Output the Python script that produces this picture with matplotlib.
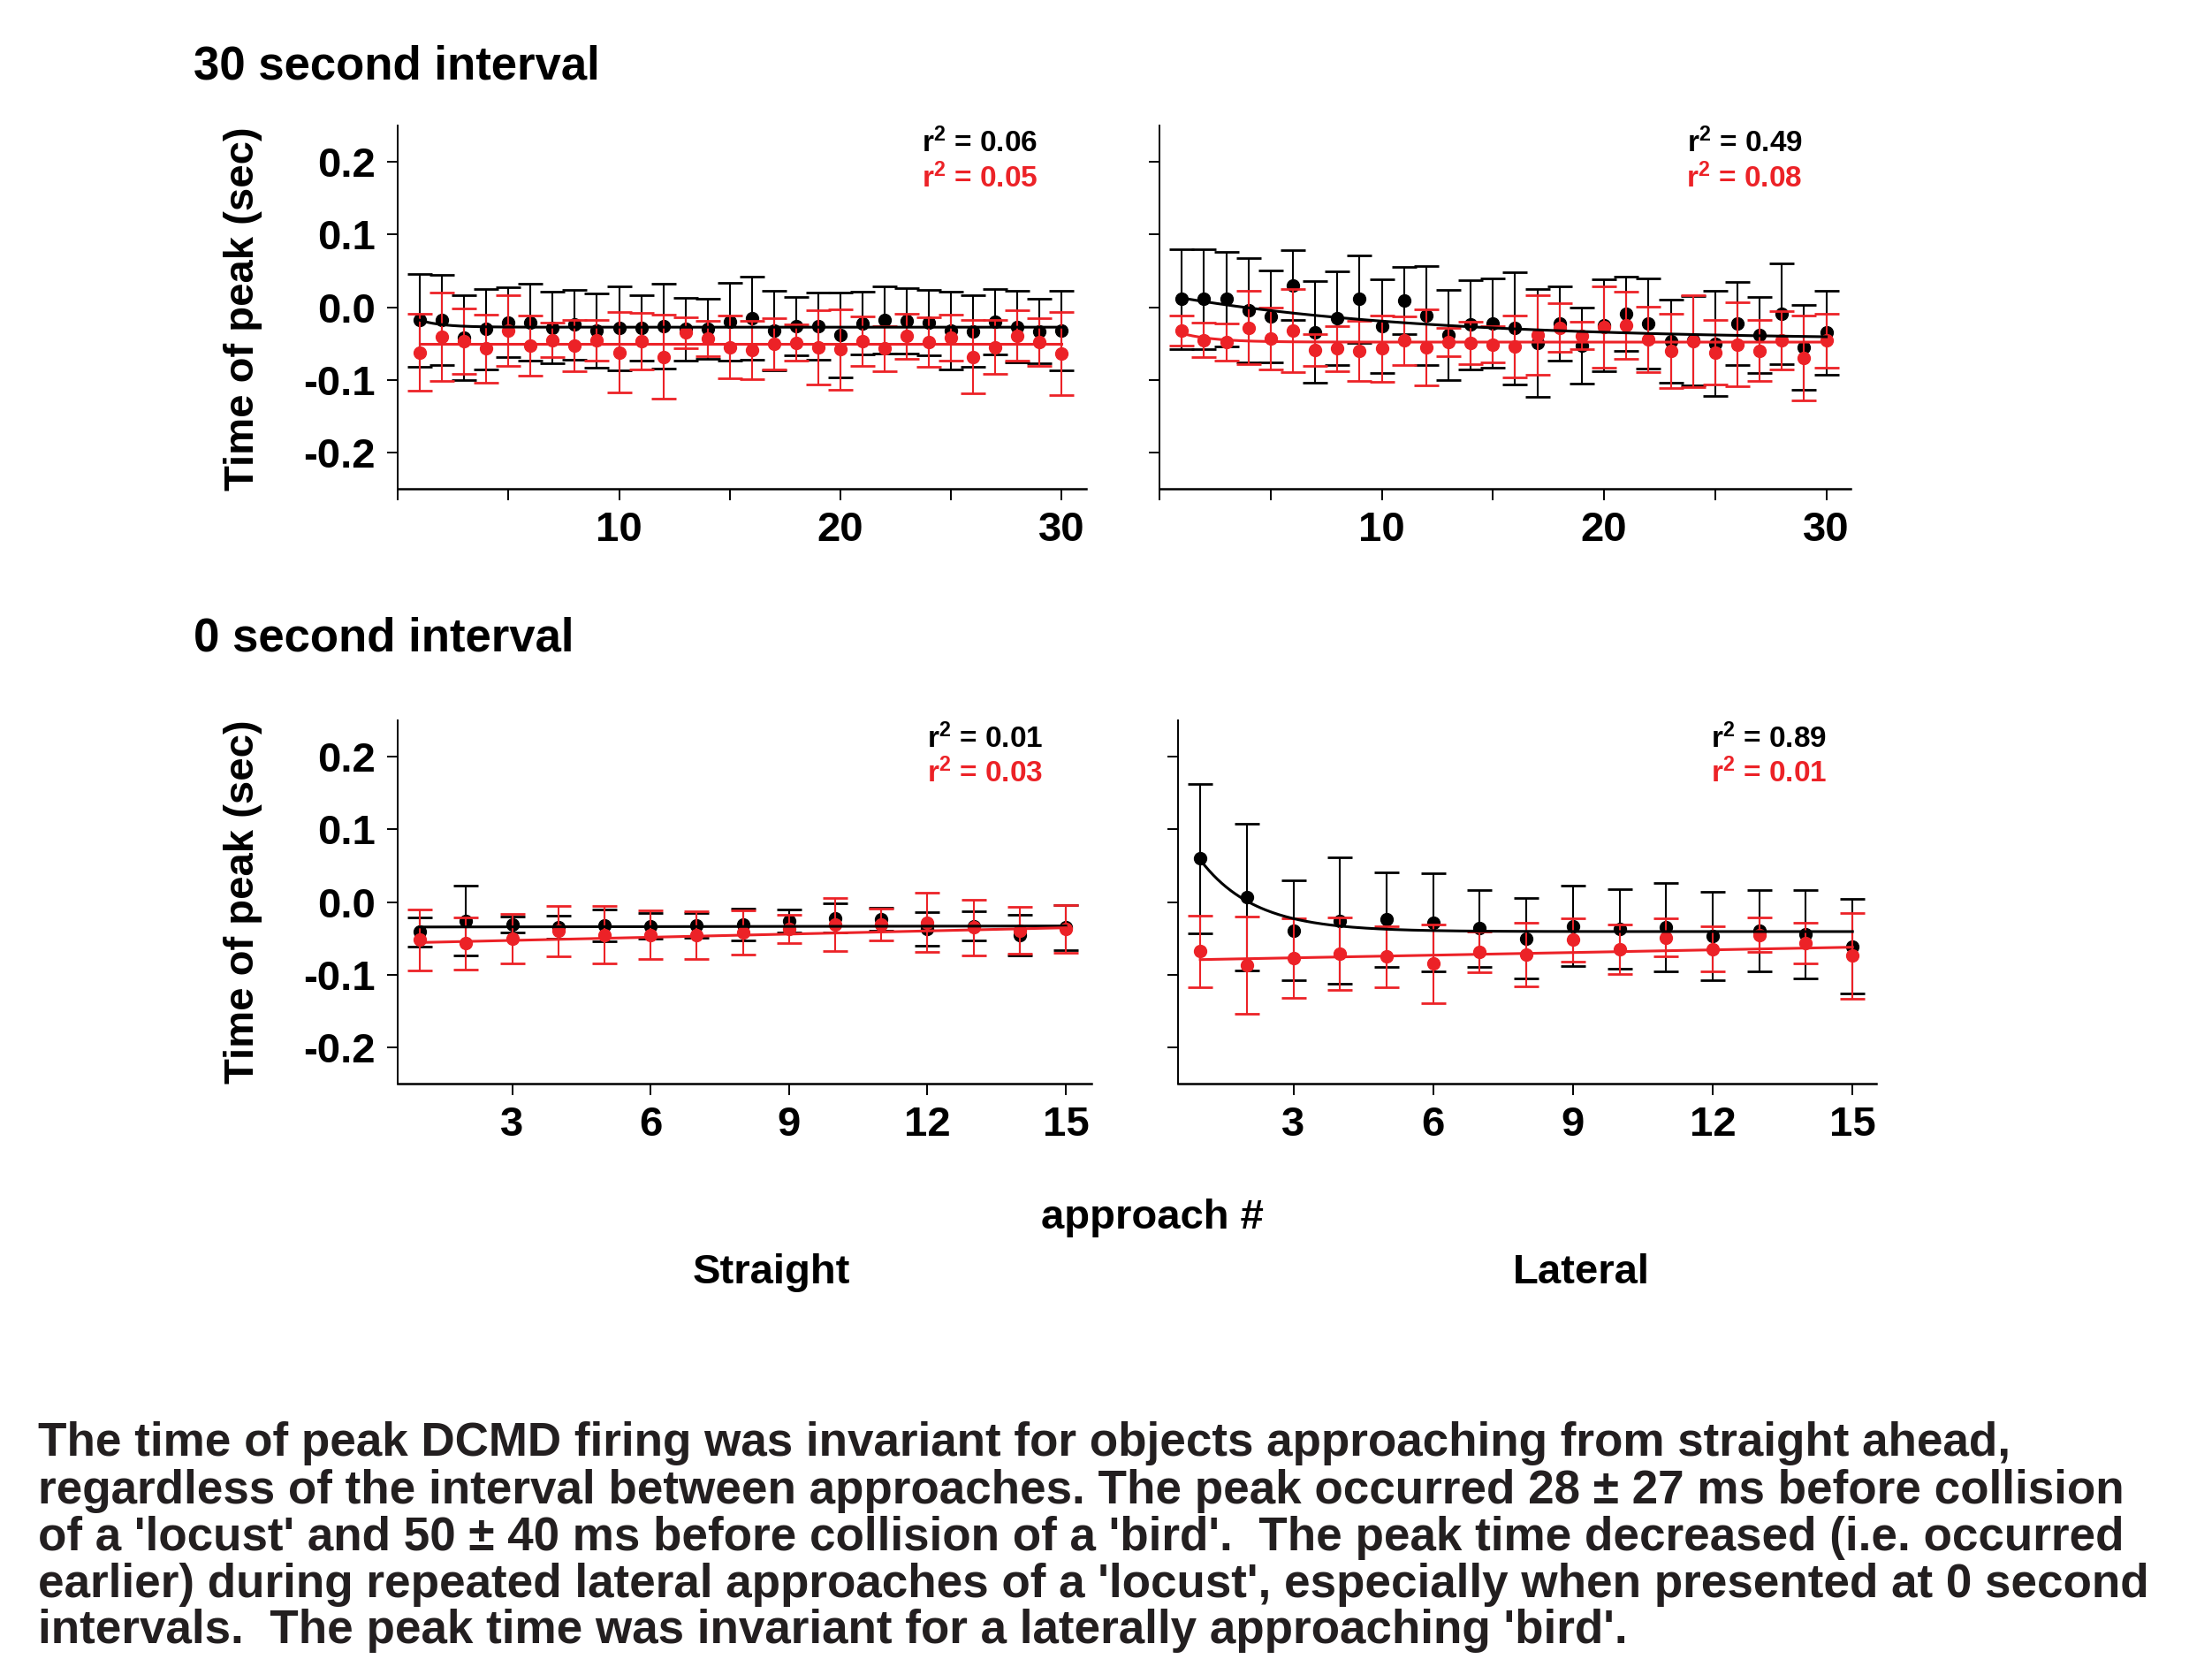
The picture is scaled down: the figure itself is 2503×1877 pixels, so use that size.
import numpy as np
import matplotlib.pyplot as plt
from matplotlib.ticker import FixedLocator, FixedFormatter

plt.rcParams['font.family'] = ['Liberation Sans', 'DejaVu Sans']
plt.rcParams['font.weight'] = 'bold'
plt.rcParams['mathtext.fontset'] = 'custom'
plt.rcParams['mathtext.rm'] = 'Liberation Sans:bold'
plt.rcParams['mathtext.it'] = 'Liberation Sans:bold'
plt.rcParams['mathtext.bf'] = 'Liberation Sans:bold'

RED = "#ec2227"
BLACK = "#000000"

# ── data (black = 'locust', red = 'bird'), values in sec ─────────────────────

APPROACH_30 = list(range(1, 31))
APPROACH_0 = list(range(1, 16))

# 30 s interval, straight
S30_LOCUST = [-0.018, -0.018, -0.042, -0.030, -0.021, -0.021, -0.028, -0.024, -0.032, -0.029,
              -0.028, -0.026, -0.030, -0.030, -0.020, -0.015, -0.032, -0.026, -0.026, -0.038,
              -0.022, -0.018, -0.019, -0.021, -0.032, -0.033, -0.020, -0.027, -0.033, -0.032]
S30_LOCUST_ERR = [0.064, 0.062, 0.058, 0.055, 0.048, 0.053, 0.049, 0.048, 0.051, 0.058,
                  0.045, 0.058, 0.043, 0.041, 0.054, 0.057, 0.055, 0.040, 0.046, 0.058,
                  0.043, 0.046, 0.045, 0.045, 0.053, 0.049, 0.045, 0.049, 0.044, 0.055]
S30_BIRD = [-0.062, -0.041, -0.047, -0.057, -0.032, -0.053, -0.045, -0.053, -0.045, -0.062,
            -0.047, -0.068, -0.035, -0.043, -0.055, -0.059, -0.050, -0.049, -0.055, -0.058,
            -0.047, -0.057, -0.040, -0.048, -0.042, -0.068, -0.055, -0.039, -0.048, -0.064]
S30_BIRD_ERR = [0.053, 0.061, 0.045, 0.047, 0.049, 0.041, 0.024, 0.035, 0.028, 0.055,
                0.039, 0.058, 0.021, 0.024, 0.043, 0.040, 0.035, 0.025, 0.051, 0.055,
                0.034, 0.031, 0.031, 0.034, 0.032, 0.050, 0.037, 0.035, 0.033, 0.057]

# 30 s interval, lateral
L30_LOCUST = [0.011, 0.011, 0.011, -0.004, -0.013, 0.030, -0.034, -0.015, 0.011, -0.026,
              0.009, -0.011, -0.038, -0.024, -0.022, -0.029, -0.049, -0.023, -0.053, -0.025,
              -0.009, -0.022, -0.047, -0.046, -0.050, -0.022, -0.038, -0.009, -0.055, -0.035]
L30_LOCUST_ERR = [0.069, 0.069, 0.065, 0.072, 0.063, 0.048, 0.070, 0.064, 0.060, 0.064,
                  0.046, 0.068, 0.062, 0.061, 0.061, 0.077, 0.074, 0.051, 0.052, 0.063,
                  0.051, 0.062, 0.057, 0.061, 0.072, 0.057, 0.052, 0.069, 0.058, 0.058]
L30_BIRD = [-0.032, -0.045, -0.048, -0.028, -0.043, -0.032, -0.059, -0.057, -0.060, -0.057,
            -0.046, -0.055, -0.048, -0.049, -0.051, -0.054, -0.038, -0.028, -0.039, -0.027,
            -0.025, -0.044, -0.060, -0.047, -0.062, -0.051, -0.060, -0.045, -0.070, -0.046]
L30_BIRD_ERR = [0.021, 0.024, 0.025, 0.050, 0.042, 0.057, 0.022, 0.031, 0.041, 0.046,
                0.033, 0.052, 0.019, 0.029, 0.025, 0.043, 0.055, 0.033, 0.019, 0.056,
                0.046, 0.045, 0.051, 0.063, 0.044, 0.058, 0.042, 0.040, 0.058, 0.037]

# 0 s interval, straight
S0_LOCUST = [-0.041, -0.026, -0.031, -0.035, -0.032, -0.033, -0.032, -0.031, -0.026, -0.022,
             -0.024, -0.037, -0.033, -0.046, -0.035]
S0_LOCUST_ERR = [0.020, 0.048, 0.011, 0.016, 0.022, 0.018, 0.017, 0.022, 0.016, 0.020,
                 0.016, 0.023, 0.020, 0.028, 0.031]
S0_BIRD = [-0.052, -0.057, -0.050, -0.040, -0.045, -0.045, -0.046, -0.042, -0.037, -0.031,
           -0.031, -0.028, -0.035, -0.039, -0.037]
S0_BIRD_ERR = [0.042, 0.036, 0.034, 0.035, 0.039, 0.033, 0.033, 0.030, 0.020, 0.037,
               0.022, 0.041, 0.038, 0.032, 0.033]

# 0 s interval, lateral
L0_LOCUST = [0.060, 0.007, -0.039, -0.026, -0.024, -0.028, -0.036, -0.050, -0.033, -0.037,
             -0.035, -0.047, -0.039, -0.044, -0.061]
L0_LOCUST_ERR = [0.103, 0.101, 0.069, 0.087, 0.065, 0.067, 0.053, 0.055, 0.055, 0.055,
                 0.061, 0.061, 0.056, 0.061, 0.065]
L0_BIRD = [-0.068, -0.087, -0.077, -0.071, -0.075, -0.085, -0.069, -0.072, -0.052, -0.065,
           -0.049, -0.065, -0.045, -0.056, -0.074]
L0_BIRD_ERR = [0.049, 0.067, 0.055, 0.050, 0.042, 0.054, 0.028, 0.044, 0.030, 0.034,
               0.026, 0.031, 0.024, 0.028, 0.059]

# fitted curves: y = plateau + amp * exp(-x / tau)
FIT_S30_LOCUST = (-0.0275, 0.026, 1.0)
FIT_S30_BIRD = (-0.0505, 0.0, 1.0)
FIT_L30_LOCUST = (-0.045, 0.063, 11.2)
FIT_L30_BIRD = (-0.048, 0.024, 1.44)
FIT_L0_LOCUST = (-0.0407, 0.232, 1.17)
# linear fits: y = intercept + slope * x
FIT_S0_LOCUST = (-0.0345, 0.0001)
FIT_S0_BIRD = (-0.0572, 0.00145)
FIT_L0_BIRD = (-0.0805, 0.00122)

R2_LABELS = [("0.06", "0.05"), ("0.49", "0.08"), ("0.01", "0.03"), ("0.89", "0.01")]

Y_TICKS = [-0.2, -0.1, 0.0, 0.1, 0.2]
Y_TICK_LABELS = ["-0.2", "-0.1", "0.0", "0.1", "0.2"]
X_TICKS_30 = [0, 5, 10, 15, 20, 25, 30]
X_TICK_LABELS_30 = ["", "", "10", "", "20", "", "30"]
X_TICKS_0 = [3, 6, 9, 12, 15]
X_TICK_LABELS_0 = ["3", "6", "9", "12", "15"]

CAPTION = [
    "The time of peak DCMD firing was invariant for objects approaching from straight ahead,",
    "regardless of the interval between approaches. The peak occurred 28 \u00b1 27 ms before collision",
    "of a 'locust' and 50 \u00b1 40 ms before collision of a 'bird'.  The peak time decreased (i.e. occurred",
    "earlier) during repeated lateral approaches of a 'locust', especially when presented at 0 second",
    "intervals.  The peak time was invariant for a laterally approaching 'bird'.",
]


def exp_fit(x, p):
    plateau, amp, tau = p
    return plateau + amp * np.exp(-x / tau)


def lin_fit(x, p):
    return p[0] + p[1] * x


fig = plt.figure(figsize=(25.03, 18.77), dpi=100)

# [left, bottom, width, height] in figure fraction
axes_pos = [
    [0.1798, 0.7052, 0.3112, 0.2193],
    [0.5242, 0.7052, 0.3125, 0.2193],
    [0.1798, 0.3468, 0.3135, 0.2190],
    [0.5325, 0.3468, 0.3155, 0.2190],
]

panels = [
    (APPROACH_30, S30_LOCUST, S30_LOCUST_ERR, S30_BIRD, S30_BIRD_ERR,
     (exp_fit, FIT_S30_LOCUST), (exp_fit, FIT_S30_BIRD), (0, 31.1), True),
    (APPROACH_30, L30_LOCUST, L30_LOCUST_ERR, L30_BIRD, L30_BIRD_ERR,
     (exp_fit, FIT_L30_LOCUST), (exp_fit, FIT_L30_BIRD), (0, 31.1), False),
    (APPROACH_0, S0_LOCUST, S0_LOCUST_ERR, S0_BIRD, S0_BIRD_ERR,
     (lin_fit, FIT_S0_LOCUST), (lin_fit, FIT_S0_BIRD), (0.52, 15.55), True),
    (APPROACH_0, L0_LOCUST, L0_LOCUST_ERR, L0_BIRD, L0_BIRD_ERR,
     (exp_fit, FIT_L0_LOCUST), (lin_fit, FIT_L0_BIRD), (0.52, 15.5), False),
]

TICK_FS = 34
YLABEL_Y = [0.8138, None, 0.4566, None]

for i, (pos, panel) in enumerate(zip(axes_pos, panels)):
    x, loc, loc_err, bird, bird_err, fit_k, fit_r, xlim, show_y = panel
    ax = fig.add_axes(pos)

    ax.errorbar(x, loc, yerr=loc_err, fmt='o', color=BLACK, ms=10, capsize=10,
                elinewidth=1.5, capthick=2.0, zorder=3)
    ax.errorbar(x, bird, yerr=bird_err, fmt='o', color=RED, ms=10, capsize=10,
                elinewidth=1.5, capthick=2.0, zorder=4)

    xs = np.linspace(x[0], x[-1], 300)
    ax.plot(xs, fit_k[0](xs, fit_k[1]), color=BLACK, lw=2.2, zorder=5)
    ax.plot(xs, fit_r[0](xs, fit_r[1]), color=RED, lw=2.2, zorder=5)

    ax.set_xlim(*xlim)
    ax.set_ylim(-0.25, 0.25)
    for s in ("top", "right"):
        ax.spines[s].set_visible(False)
    ax.spines["left"].set_linewidth(1.4)
    ax.spines["bottom"].set_linewidth(1.8)

    ax.yaxis.set_major_locator(FixedLocator(Y_TICKS))
    if show_y:
        ax.yaxis.set_major_formatter(FixedFormatter(Y_TICK_LABELS))
    else:
        ax.yaxis.set_major_formatter(FixedFormatter([""] * len(Y_TICKS)))

    if i < 2:
        ax.xaxis.set_major_locator(FixedLocator(X_TICKS_30))
        ax.xaxis.set_major_formatter(FixedFormatter(X_TICK_LABELS_30))
    else:
        ax.xaxis.set_major_locator(FixedLocator(X_TICKS_0))
        ax.xaxis.set_major_formatter(FixedFormatter(X_TICK_LABELS_0))

    ax.tick_params(axis="both", direction="out", length=9, width=1.4,
                   labelsize=TICK_FS, pad=9)
    for lab in ax.get_xticklabels() + ax.get_yticklabels():
        lab.set_fontweight("bold")

    if show_y:
        fig.text(0.1097, YLABEL_Y[i], "Time of peak (sec)", rotation=90, fontsize=34,
                 fontweight="bold", ha="center", va="center")

    r2k, r2r = R2_LABELS[i]
    ax.text(0.93, 0.95, "r$^{2}$ = " + r2k, transform=ax.transAxes, ha="right",
            va="center", fontsize=24, color=BLACK, fontweight="bold")
    ax.text(0.93, 0.855, "r$^{2}$ = " + r2r, transform=ax.transAxes, ha="right",
            va="center", fontsize=24, color=RED, fontweight="bold")

fig.text(0.0874, 0.960, "30 second interval", fontsize=38, fontweight="bold", va="center")
fig.text(0.0874, 0.615, "0 second interval", fontsize=38, fontweight="bold", va="center")
fig.text(0.521, 0.266, "approach #", fontsize=34, fontweight="bold", ha="center", va="center")
fig.text(0.3489, 0.2328, "Straight", fontsize=34, fontweight="bold", ha="center", va="center")
fig.text(0.715, 0.2328, "Lateral", fontsize=34, fontweight="bold", ha="center", va="center")

cap_y = [0.1301, 0.1011, 0.0731, 0.0450, 0.0170]
for line, y in zip(CAPTION, cap_y):
    fig.text(0.0172, y, line, fontsize=38.2, fontweight="bold", va="center", color="#231f20")

fig.savefig("out.png", dpi=100)
